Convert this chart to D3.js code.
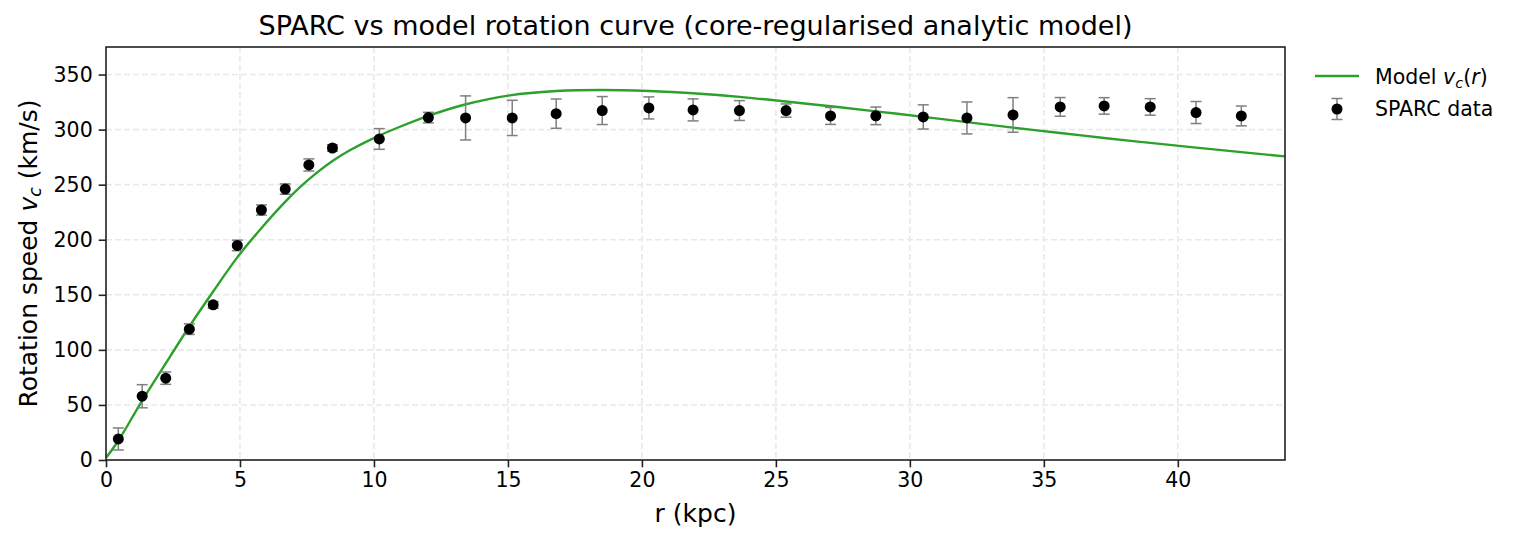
<!DOCTYPE html>
<html>
<head>
<meta charset="utf-8">
<script src="https://cdn.jsdelivr.net/npm/d3@7"></script>
<style>
  html, body { margin: 0; padding: 0; background: #fff; }
  svg { display: block; font-family: "DejaVu Sans", sans-serif; }
</style>
</head>
<body>
<svg id="chart" width="1517" height="542"></svg>
<script>
// ---- data ----
const dataR = [0.46, 1.35, 2.23, 3.11, 4.0, 4.9, 5.8, 6.69, 7.57, 8.45, 10.2, 12.03, 13.42, 15.16, 16.8, 18.52, 20.26, 21.91, 23.64, 25.38, 27.04, 28.73, 30.5, 32.13, 33.85, 35.61, 37.25, 38.97, 40.68, 42.37];
const dataV = [19.1, 57.9, 74.3, 118.8, 140.9, 194.8, 227, 246, 267.9, 283.3, 291.5, 310.9, 310.6, 310.6, 314.5, 317.3, 319.7, 317.9, 317.3, 317.3, 312.4, 312.5, 311.5, 310.6, 313.3, 320.6, 321.5, 320.6, 315.5, 312.4];
const dataErr = [10, 10.5, 5.6, 4.8, 3, 4.8, 4.6, 4.7, 5.5, 3, 9.4, 4.8, 20, 16, 13.3, 12.7, 10, 10, 9, 6, 7.7, 8, 11, 14.5, 15.7, 8.5, 7.5, 7.5, 10, 9];

const modelR = [0, 0.46, 1.35, 2.39, 3.11, 4.0, 4.9, 5.78, 6.65, 7.24, 7.86, 8.48, 9.10, 9.97, 10.97, 12.03, 13.4, 15.07, 16.8, 18.52, 20.26, 21.91, 23.64, 25.38, 27.04, 28.73, 30.5, 32.13, 33.85, 35.61, 37.25, 38.97, 40.68, 42.37, 44];
const modelV = [2, 17.5, 54, 93.9, 121.2, 153, 184, 210, 233.5, 247.7, 260.7, 271.9, 281.2, 292.1, 302.6, 312.5, 322.8, 331.1, 335, 336, 335, 333, 329.7, 325.5, 321.2, 316.6, 311.6, 306.8, 301.8, 296.9, 292.4, 287.9, 283.6, 279.5, 275.7];

const xTicks = [0, 5, 10, 15, 20, 25, 30, 35, 40];
const yTicks = [0, 50, 100, 150, 200, 250, 300, 350];
const xDomain = [0, 44];
const yDomain = [0, 375];

const titleText = "SPARC vs model rotation curve (core-regularised analytic model)";
const xLabelText = "r (kpc)";

// ---- layout ----
const L = 106, T = 47, R = 1285, B = 460;
const svg = d3.select("#chart");

const x = d3.scaleLinear().domain(xDomain).range([L, R]);
const y = d3.scaleLinear().domain(yDomain).range([B, T]);

// grid
const grid = svg.append("g");
grid.selectAll("line.gx").data(xTicks).enter().append("line")
  .attr("x1", d => x(d)).attr("x2", d => x(d)).attr("y1", T).attr("y2", B)
  .attr("stroke", "#e9e9e9").attr("stroke-width", 1.6).attr("stroke-dasharray", "6,3");
grid.selectAll("line.gy").data(yTicks).enter().append("line")
  .attr("x1", L).attr("x2", R).attr("y1", d => y(d)).attr("y2", d => y(d))
  .attr("stroke", "#e9e9e9").attr("stroke-width", 1.6).attr("stroke-dasharray", "6,3");

// clip
svg.append("clipPath").attr("id", "clip").append("rect")
  .attr("x", L).attr("y", T).attr("width", R - L).attr("height", B - T);

// model curve
const line = d3.line().x((d, i) => x(modelR[i])).y((d, i) => y(modelV[i])).curve(d3.curveCatmullRom.alpha(0.5));
svg.append("path").datum(modelV).attr("d", line)
  .attr("fill", "none").attr("stroke", "#2ca02c").attr("stroke-width", 2.4)
  .attr("clip-path", "url(#clip)");

// error bars
const eb = svg.append("g").attr("stroke", "#7f7f7f").attr("stroke-width", 1.5);
const cap = 5.5;
dataR.forEach((r, i) => {
  const cx = x(r), y1 = y(dataV[i] - dataErr[i]), y2 = y(dataV[i] + dataErr[i]);
  eb.append("line").attr("x1", cx).attr("x2", cx).attr("y1", y1).attr("y2", y2);
  eb.append("line").attr("x1", cx - cap).attr("x2", cx + cap).attr("y1", y1).attr("y2", y1);
  eb.append("line").attr("x1", cx - cap).attr("x2", cx + cap).attr("y1", y2).attr("y2", y2);
});

// points
svg.append("g").selectAll("circle").data(dataV).enter().append("circle")
  .attr("cx", (d, i) => x(dataR[i])).attr("cy", d => y(d)).attr("r", 5.5).attr("fill", "#000");

// axes
const xAxis = d3.axisBottom(x).tickValues(xTicks).tickSize(7.3).tickPadding(5).tickFormat(d3.format("d"));
const yAxis = d3.axisLeft(y).tickValues(yTicks).tickSize(7.3).tickPadding(6).tickFormat(d3.format("d"));
const gx = svg.append("g").attr("transform", `translate(0,${B})`).call(xAxis);
const gy = svg.append("g").attr("transform", `translate(${L},0)`).call(yAxis);
[gx, gy].forEach(g => {
  g.select(".domain").remove();
  g.selectAll(".tick line").attr("stroke", "#222").attr("stroke-width", 1.6);
  g.selectAll(".tick text").attr("fill", "#000").style("font-size", "20.5px").style("font-family", "DejaVu Sans");
});

// frame
svg.append("rect").attr("x", L).attr("y", T).attr("width", R - L).attr("height", B - T)
  .attr("fill", "none").attr("stroke", "#222").attr("stroke-width", 1.6);

// title
svg.append("text").attr("x", (L + R) / 2).attr("y", 35).attr("text-anchor", "middle")
  .style("font-size", "27px").attr("fill", "#000").text(titleText);

// x label
svg.append("text").attr("x", (L + R) / 2).attr("y", 522).attr("text-anchor", "middle")
  .style("font-size", "25px").attr("fill", "#000").text(xLabelText);

// y label with math
const yl = svg.append("text").attr("transform", `translate(37,${(T + B) / 2}) rotate(-90)`)
  .attr("text-anchor", "middle").style("font-size", "25px").attr("fill", "#000");
yl.append("tspan").text("Rotation speed ");
yl.append("tspan").style("font-style", "italic").text("v");
yl.append("tspan").style("font-style", "italic").style("font-size", "17.5px").attr("dy", 4).text("c");
yl.append("tspan").attr("dy", -4).text(" (km/s)");

// legend
const lg = svg.append("g");
lg.append("line").attr("x1", 1315).attr("x2", 1359).attr("y1", 76).attr("y2", 76)
  .attr("stroke", "#2ca02c").attr("stroke-width", 2.4);
const lt1 = lg.append("text").attr("x", 1375).attr("y", 84).style("font-size", "20.5px").attr("fill", "#000");
lt1.append("tspan").text("Model ");
lt1.append("tspan").style("font-style", "italic").text("v");
lt1.append("tspan").style("font-style", "italic").style("font-size", "14.5px").attr("dy", 4).text("c");
lt1.append("tspan").attr("dy", -4).text("(");
lt1.append("tspan").style("font-style", "italic").text("r");
lt1.append("tspan").text(")");

const mx = 1337, my = 109;
lg.append("line").attr("x1", mx).attr("x2", mx).attr("y1", my - 10.5).attr("y2", my + 10.5)
  .attr("stroke", "#7f7f7f").attr("stroke-width", 1.5);
lg.append("line").attr("x1", mx - cap).attr("x2", mx + cap).attr("y1", my - 10.5).attr("y2", my - 10.5)
  .attr("stroke", "#7f7f7f").attr("stroke-width", 1.5);
lg.append("line").attr("x1", mx - cap).attr("x2", mx + cap).attr("y1", my + 10.5).attr("y2", my + 10.5)
  .attr("stroke", "#7f7f7f").attr("stroke-width", 1.5);
lg.append("circle").attr("cx", mx).attr("cy", my).attr("r", 5.5).attr("fill", "#000");
lg.append("text").attr("x", 1375).attr("y", 116).style("font-size", "20.5px").attr("fill", "#000").text("SPARC data");
</script>
</body>
</html>
